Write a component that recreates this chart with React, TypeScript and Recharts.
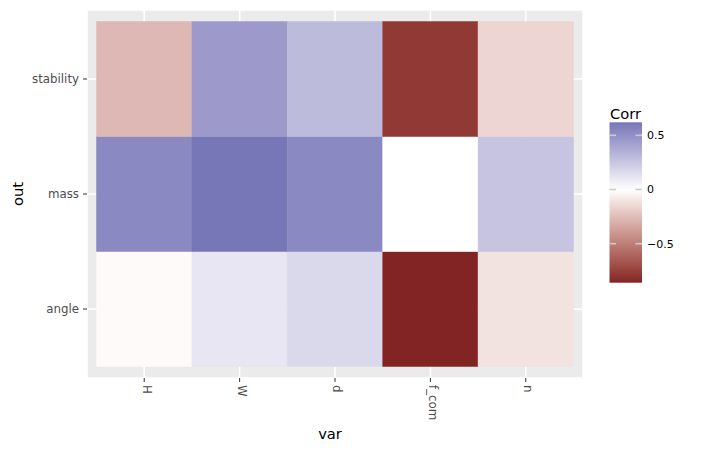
import React from 'react';
import { ScatterChart, Scatter, XAxis, YAxis, CartesianGrid, ReferenceArea } from 'recharts';

const xLabels = ['H', 'W', 'd', 'f_com', 'n'];
const yLabels = ['angle', 'mass', 'stability'];
const angleRow = [-0.02, 0.11, 0.17, -0.86, -0.11];
const massRow = [0.53, 0.62, 0.53, 0.0, 0.26];
const stabilityRow = [-0.27, 0.45, 0.3, -0.78, -0.16];
const legendTicks = [0.5, 0, -0.5];
const legendTickLabels = ['0.5', '0', '\u22120.5'];

const rows = [angleRow, massRow, stabilityRow];
const cells = rows.flatMap((row, yi) => row.map((v, xi) => ({ x: xi, y: yi, v })));
const vMin = Math.min(...cells.map((c) => c.v));
const vMax = Math.max(...cells.map((c) => c.v));

const LOW = '#832424';
const MID = '#ffffff';
const HIGH = '#7777b7';

const FONT = '"DejaVu Sans", sans-serif';

function s2l(c: number) {
  c /= 255;
  return c <= 0.04045 ? c / 12.92 : Math.pow((c + 0.055) / 1.055, 2.4);
}
function l2s(c: number) {
  const v = c <= 0.0031308 ? 12.92 * c : 1.055 * Math.pow(c, 1 / 2.4) - 0.055;
  return Math.round(Math.max(0, Math.min(1, v)) * 255);
}
const xn = 0.95047, yn = 1, zn = 1.08883;
function f(t: number) {
  return t > 0.008856 ? Math.cbrt(t) : 7.787 * t + 16 / 116;
}
function finv(t: number) {
  return t > 0.206893 ? t * t * t : (t - 16 / 116) / 7.787;
}
function toLab(hex: string) {
  const r = s2l(parseInt(hex.slice(1, 3), 16));
  const g = s2l(parseInt(hex.slice(3, 5), 16));
  const b = s2l(parseInt(hex.slice(5, 7), 16));
  const X = 0.4124 * r + 0.3576 * g + 0.1805 * b;
  const Y = 0.2126 * r + 0.7152 * g + 0.0722 * b;
  const Z = 0.0193 * r + 0.1192 * g + 0.9505 * b;
  const fx = f(X / xn), fy = f(Y / yn), fz = f(Z / zn);
  return [116 * fy - 16, 500 * (fx - fy), 200 * (fy - fz)];
}
function fromLab([L, a, b]: number[]) {
  const fy = (L + 16) / 116;
  const fx = fy + a / 500;
  const fz = fy - b / 200;
  const X = finv(fx) * xn, Y = finv(fy) * yn, Z = finv(fz) * zn;
  const r = 3.2406 * X - 1.5372 * Y - 0.4986 * Z;
  const g = -0.9689 * X + 1.8758 * Y + 0.0415 * Z;
  const bb = 0.0557 * X - 0.204 * Y + 1.057 * Z;
  const h = (n: number) => l2s(n).toString(16).padStart(2, '0');
  return '#' + h(r) + h(g) + h(bb);
}
const labLow = toLab(LOW), labMid = toLab(MID), labHigh = toLab(HIGH);
function mix(a: number[], b: number[], t: number) {
  return a.map((v, i) => v + (b[i] - v) * t);
}
function colorFor(v: number) {
  if (v >= 0) return fromLab(mix(labMid, labHigh, Math.min(1, v / vMax)));
  return fromLab(mix(labMid, labLow, Math.min(1, v / vMin)));
}

const XTick = (props: any) => {
  const { x, y, payload } = props;
  return (
    <g transform={`translate(${x},${y})`}>
      <text
        transform="rotate(90)"
        x={1}
        y={1.6}
        textAnchor="start"
        fontFamily={FONT}
        fontSize={11.8}
        fill="#4d4d4d"
      >
        {xLabels[payload.value]}
      </text>
    </g>
  );
};

// legend geometry
const barX = 609.5, barW = 32.5, barTop = 122.3, barBottom = 282.7;
const legY = (v: number) => barTop + ((vMax - v) / (vMax - vMin)) * (barBottom - barTop);
const stops = Array.from({ length: 41 }, (_, i) => {
  const v = vMax - (i / 40) * (vMax - vMin);
  return { off: i / 40, c: colorFor(v) };
});

export default function App() {
  return (
    <div style={{ position: 'absolute', left: 0, top: 0, width: 702, height: 454, background: '#fff' }}>
      <ScatterChart width={702} height={454} margin={{ top: 10, right: 119, bottom: 0, left: 0 }}>
        <CartesianGrid fill="#EBEBEB" stroke="#ffffff" strokeWidth={1.6} />
        <XAxis
          type="number"
          dataKey="x"
          domain={[-0.6, 4.6]}
          allowDataOverflow
          ticks={[0, 1, 2, 3, 4]}
          height={76}
          axisLine={false}
          tickLine={{ stroke: '#333333' }}
          tickSize={4}
          tickMargin={2}
          tick={<XTick />}
          interval={0}
        />
        <YAxis
          type="number"
          dataKey="y"
          domain={[-0.6, 2.6]}
          allowDataOverflow
          ticks={[0, 1, 2]}
          width={87}
          axisLine={false}
          tickLine={{ stroke: '#333333' }}
          tickSize={4}
          tickMargin={4}
          tickFormatter={(v: number) => yLabels[v]}
          tick={{ fontFamily: FONT, fontSize: 11.8, fill: '#4d4d4d' }}
          interval={0}
        />
        {cells.map((c, i) => (
          <ReferenceArea
            key={i}
            x1={c.x - 0.5}
            x2={c.x + 0.5}
            y1={c.y - 0.5}
            y2={c.y + 0.5}
            fill={colorFor(c.v)}
            fillOpacity={1}
            stroke={colorFor(c.v)}
            strokeWidth={0.5}
            ifOverflow="visible"
          />
        ))}
        <Scatter data={cells} isAnimationActive={false} shape={() => <g />} />
      </ScatterChart>
      <svg
        width={702}
        height={454}
        style={{ position: 'absolute', left: 0, top: 0, pointerEvents: 'none' }}
      >
        <defs>
          <linearGradient id="corrGrad" x1="0" y1="0" x2="0" y2="1">
            {stops.map((s, i) => (
              <stop key={i} offset={s.off} stopColor={s.c} />
            ))}
          </linearGradient>
        </defs>
        <text x={23} y={194} transform="rotate(-90 23 194)" textAnchor="middle" fontFamily={FONT} fontSize={14.7} fill="#000">
          out
        </text>
        <text x={330} y={438.5} textAnchor="middle" fontFamily={FONT} fontSize={14.7} fill="#000">
          var
        </text>
        <text x={610} y={119} fontFamily={FONT} fontSize={14.7} fill="#000">
          Corr
        </text>
        <rect x={barX} y={barTop} width={barW} height={barBottom - barTop} fill="url(#corrGrad)" />
        {legendTicks.map((t, i) => (
          <g key={i}>
            <line x1={barX} x2={barX + 6.5} y1={legY(t)} y2={legY(t)} stroke="#cccccc" strokeWidth={1.6} />
            <line x1={barX + barW - 6.5} x2={barX + barW} y1={legY(t)} y2={legY(t)} stroke="#cccccc" strokeWidth={1.6} />
            <text x={647} y={legY(t)} dy="0.36em" fontFamily={FONT} fontSize={11} fill="#000">
              {legendTickLabels[i]}
            </text>
          </g>
        ))}
      </svg>
    </div>
  );
}
